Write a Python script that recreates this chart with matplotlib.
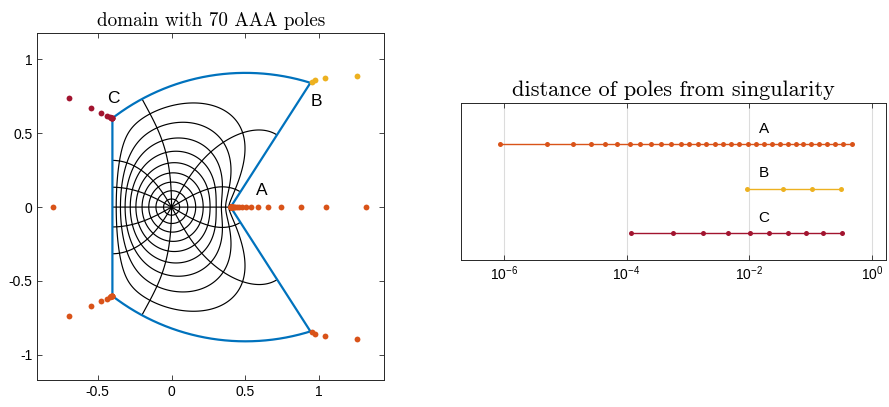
import numpy as np
import matplotlib
matplotlib.use("Agg")
import matplotlib.pyplot as plt
from matplotlib.path import Path
from matplotlib.ticker import NullLocator

plt.rcParams["font.family"] = ["Liberation Sans", "DejaVu Sans"]
plt.rcParams["axes.unicode_minus"] = False
plt.rcParams["mathtext.fontset"] = "custom"
plt.rcParams["mathtext.rm"] = "Liberation Sans"
plt.rcParams["mathtext.it"] = "Liberation Sans:italic"

# domain corners (upper half; lower half is the mirror image)
corner_a = 0.4 + 0j
corner_b = 0.94 + 0.841j
corner_c = -0.4 + 0.6j
arc_center = 0.5 - 0.566j

# log10 of pole distances from each corner (right panel)
logdist_a = [-6.07, -5.29, -4.87, -4.58, -4.35, -4.15, -3.95, -3.78, -3.60, -3.44,
             -3.27, -3.11, -2.98, -2.84, -2.70, -2.56, -2.43, -2.29, -2.16, -2.02,
             -1.89, -1.76, -1.63, -1.50, -1.37, -1.24, -1.12, -0.99, -0.86, -0.73,
             -0.60, -0.47, -0.32]
logdist_b = [-2.04, -1.45, -0.98, -0.50]
logdist_c = [-3.92, -3.24, -2.75, -2.35, -1.99, -1.67, -1.36, -1.07, -0.79, -0.49]

# direction (deg) in which each pole sits from its corner (left panel)
angles_a = [0] * len(logdist_a)
angles_b = [30, 27, 19, 9]
angles_c = [154.6] * len(logdist_c)
other_poles_x = [-0.801, 1.044, 1.319]

# conformal map grid: |f| circles and arg f rays (each ray drawn with its opposite)
circle_levels = [0.1, 0.2, 0.3, 0.4, 0.5, 0.6, 0.7, 0.8, 0.9]
ray_angles = [0, 30, 60, 90, 120, 150]

# corner exterior directions for the lightning basis (deg)
corner_out = {"a": 0, "b": 20, "c": 153.85}

col_blue = "#0072BD"
col_a = "#D95319"
col_b = "#EDB120"
col_c = "#A2142F"
ink = "#262626"


def boundary(t):
    # closed boundary, counterclockwise: A->B line, B->C arc, C->C' line, C'->B' arc, B'->A line
    cb, cc, oc = np.conj(corner_b), np.conj(corner_c), np.conj(arc_center)
    r = abs(corner_b - arc_center)
    tb, tc = np.angle(corner_b - arc_center), np.angle(corner_c - arc_center)
    pieces = [
        corner_a + t * (corner_b - corner_a),
        arc_center + r * np.exp(1j * (tb + t * (tc - tb))),
        corner_c + t * (cc - corner_c),
        oc + r * np.exp(1j * (-tc + t * (tc - tb))),
        cb + t * (corner_a - cb),
    ]
    return pieces


# --- numerical conformal map f: domain -> unit disk, f(0)=0 ---
s = np.concatenate([0.5 * np.logspace(-8, 0, 140), 1 - 0.5 * np.logspace(-8, 0, 140),
                    np.linspace(0, 1, 200)[1:-1]])
s = np.unique(s[(s > 0) & (s < 1)])
zb = np.concatenate(boundary(s))

npol = 36
dpol = 0.6 * np.exp(-4.0 * (np.sqrt(npol) - np.sqrt(np.arange(1, npol + 1))))
poles, scales = [], []
for w, ang in [(corner_a, corner_out["a"]), (corner_b, corner_out["b"]),
               (np.conj(corner_b), -corner_out["b"]), (corner_c, corner_out["c"]),
               (np.conj(corner_c), -corner_out["c"])]:
    poles.append(w + dpol * np.exp(1j * np.deg2rad(ang)))
    scales.append(dpol)
poles = np.concatenate(poles)
scales = np.concatenate(scales)
deg = 30
zc, rad = 0.27, 1.1


def basis(z):
    cols = [((z - zc) / rad) ** k for k in range(deg + 1)]
    cols += [sc / (z - p) for p, sc in zip(poles, scales)]
    return cols


Ab = np.column_stack(basis(zb))
M = np.hstack([Ab.real, -Ab.imag])
sol = np.linalg.lstsq(M, np.log(np.abs(zb)), rcond=None)[0]
coef = sol[:Ab.shape[1]] + 1j * sol[Ab.shape[1]:]

xs = np.linspace(-0.41, 0.95, 760)
ys = np.linspace(-0.92, 0.92, 1030)
X, Y = np.meshgrid(xs, ys)
Z = X + 1j * Y
outline = np.concatenate(boundary(np.linspace(0, 1, 400)))
inside = Path(np.column_stack([outline.real, outline.imag])).contains_points(
    np.column_stack([X.ravel(), Y.ravel()])).reshape(X.shape)

G = np.zeros_like(Z)
for c, col in zip(coef, basis(Z)):
    G += c * col
F = Z * np.exp(-G)

fig = plt.figure(figsize=(8.89, 4.07), dpi=100)

# ---------- left panel ----------
ax1 = fig.add_axes([0.042, 0.0663, 0.3903, 0.8526])
ax1.contour(X, Y, np.ma.masked_where(~inside, np.abs(F)), levels=circle_levels,
            colors="k", linewidths=0.85)
for th in ray_angles:
    ax1.contour(X, Y, np.ma.masked_where(~inside, np.imag(F * np.exp(-1j * np.deg2rad(th)))),
                levels=[0], colors="k", linewidths=0.85)
ax1.plot(np.append(outline.real, outline.real[0]), np.append(outline.imag, outline.imag[0]),
         color=col_blue, lw=1.6)

pa = corner_a + 10 ** np.array(logdist_a) * np.exp(1j * np.deg2rad(angles_a))
pb = corner_b + 10 ** np.array(logdist_b) * np.exp(1j * np.deg2rad(angles_b))
pc = corner_c + 10 ** np.array(logdist_c) * np.exp(1j * np.deg2rad(angles_c))
ms = 4.2
ax1.plot(pa.real, pa.imag, "o", color=col_a, ms=ms, mec="none")
ax1.plot(pb.real, pb.imag, "o", color=col_b, ms=ms, mec="none")
ax1.plot(pc.real, pc.imag, "o", color=col_c, ms=ms, mec="none")
ax1.plot(pb.real, -pb.imag, "o", color=col_a, ms=ms, mec="none")
ax1.plot(pc.real, -pc.imag, "o", color=col_a, ms=ms, mec="none")
ax1.plot(other_poles_x, np.zeros(len(other_poles_x)), "o", color=col_a, ms=ms, mec="none")

ax1.text(0.613, 0.112, "A", fontsize=12.5, ha="center", va="center", color="k")
ax1.text(0.981, 0.714, "B", fontsize=12.5, ha="center", va="center", color="k")
ax1.text(-0.395, 0.737, "C", fontsize=12.5, ha="center", va="center", color="k")

ax1.set_xlim(-0.908, 1.44)
ax1.set_ylim(-1.17, 1.178)
ax1.set_xticks([-0.5, 0, 0.5, 1])
ax1.set_xticklabels(["-0.5", "0", "0.5", "1"])
ax1.set_yticks([-1, -0.5, 0, 0.5, 1])
ax1.set_yticklabels(["-1", "-0.5", "0", "0.5", "1"])
ax1.set_title("domain with 70 AAA poles", fontfamily="cmr10", fontsize=13.8, pad=5)

# ---------- right panel ----------
ax2 = fig.add_axes([0.5186, 0.3612, 0.4781, 0.385])
ax2.set_xscale("log")
ax2.plot(10 ** np.array(logdist_a), np.full(len(logdist_a), 3), "o-", color=col_a,
         ms=3.6, lw=1.0, mec="none")
ax2.plot(10 ** np.array(logdist_b), np.full(len(logdist_b), 2), "o-", color=col_b,
         ms=3.6, lw=1.0, mec="none")
ax2.plot(10 ** np.array(logdist_c), np.full(len(logdist_c), 1), "o-", color=col_c,
         ms=3.6, lw=1.0, mec="none")
for lab, yv in [("A", 3), ("B", 2), ("C", 1)]:
    ax2.text(10 ** -1.76, yv + 0.34, lab, fontsize=11, ha="center", va="center")
ax2.set_xlim(10 ** -6.70, 10 ** 0.232)
ax2.set_ylim(0.40, 3.91)
ax2.set_yticks([])
ax2.set_xticks([1e-6, 1e-4, 1e-2, 1])
ax2.set_xticklabels([r"$10^{-6}$", r"$10^{-4}$", r"$10^{-2}$", r"$10^{0}$"])
ax2.xaxis.set_minor_locator(NullLocator())
ax2.grid(True, axis="x", color="#dcdcdc", lw=0.8)
ax2.set_axisbelow(True)
ax2.set_title("distance of poles from singularity", fontfamily="cmr10", fontsize=16, pad=5)

for ax in (ax1, ax2):
    ax.tick_params(which="both", direction="in", top=True, right=True, length=3.5,
                   labelsize=10, colors=ink, labelcolor="k", width=0.6)
    for sp in ax.spines.values():
        sp.set_color(ink)
        sp.set_linewidth(0.7)

fig.savefig("out.png", dpi=100)
